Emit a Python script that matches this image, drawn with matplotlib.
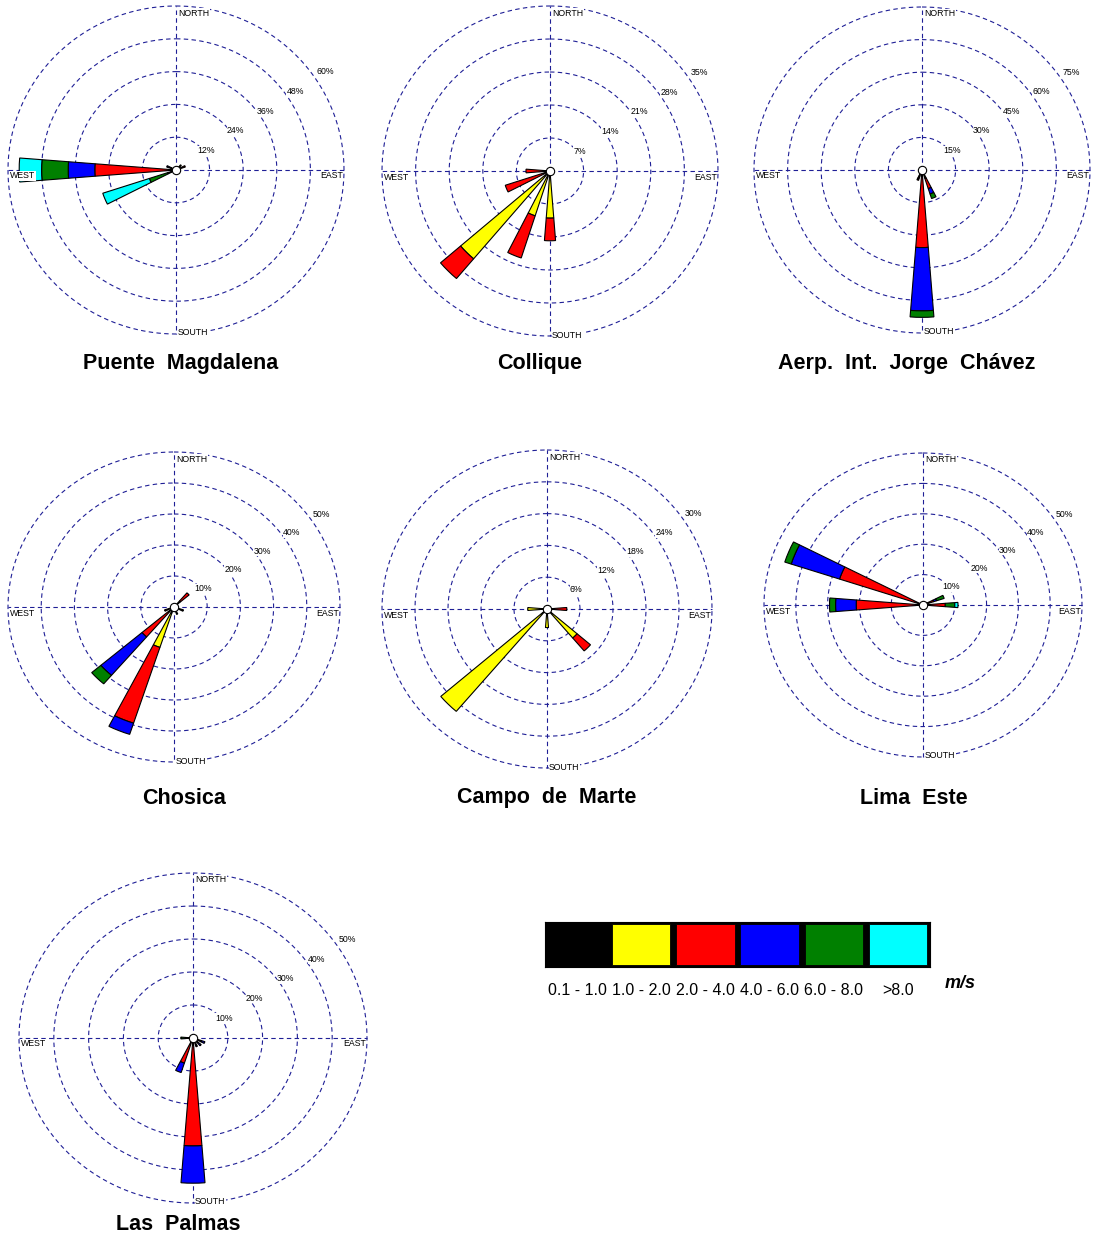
import numpy as np
import matplotlib.pyplot as plt

W, H = 1094, 1240

compass = ['N', 'NNE', 'NE', 'ENE', 'E', 'ESE', 'SE', 'SSE',
           'S', 'SSW', 'SW', 'WSW', 'W', 'WNW', 'NW', 'NNW']
speed_labels = ['0.1 - 1.0', '1.0 - 2.0', '2.0 - 4.0', '4.0 - 6.0', '6.0 - 8.0', '>8.0']
speed_colors = ['#000000', '#ffff00', '#ff0000', '#0000ff', '#008000', '#00ffff']

# frequencies (%) per speed class: 0.1-1, 1-2, 2-4, 4-6, 6-8, >8
pm_dirs = ['NE', 'ENE', 'WNW', 'W', 'WSW']
pm_freq = [[0.5, 2.0, 0, 0, 0, 0],
           [0.5, 1.0, 2.0, 0, 0, 0],
           [0.5, 0.5, 1.0, 1.5, 0, 0],
           [0.5, 1.0, 27.5, 9.5, 9.5, 8.0],
           [1.0, 0, 1.0, 1.0, 7.0, 17.5]]
pm_step = 12

co_dirs = ['W', 'WSW', 'SW', 'SSW', 'S']
co_freq = [[0.3, 0.5, 4.2, 0, 0, 0],
           [0.3, 1.0, 8.5, 0, 0, 0],
           [0.3, 24.2, 5.5, 0, 0, 0],
           [0.3, 9.7, 9.4, 0, 0, 0],
           [0.5, 9.5, 4.8, 0, 0, 0]]
co_step = 7

ae_dirs = ['S', 'SSE', 'SSW']
ae_freq = [[0.5, 1.5, 33.7, 29.1, 3.0, 0],
           [2.0, 2.0, 5.0, 2.6, 2.2, 0],
           [3.0, 1.0, 1.0, 0, 0, 0]]
ae_step = 15

ch_dirs = ['SW', 'SSW', 'NE', 'WSW', 'SSE', 'ESE']
ch_freq = [[1.0, 0.5, 11.2, 16.3, 3.6, 0],
           [2.0, 11.7, 25.7, 3.8, 0, 0],
           [0.5, 2.0, 3.5, 0, 0, 0],
           [1.0, 0, 2.0, 0, 0, 0],
           [2.5, 0, 0, 0, 0, 0],
           [3.0, 0, 0, 0, 0, 0]]
ch_step = 10

cm_dirs = ['SW', 'SE', 'E', 'W', 'S']
cm_freq = [[0.5, 24.9, 0, 0, 0, 0],
           [0.3, 6.9, 3.2, 0, 0, 0],
           [0.3, 0.3, 3.0, 0, 0, 0],
           [0.3, 3.2, 0, 0, 0, 0],
           [0.3, 3.2, 0, 0, 0, 0]]
cm_step = 6

le_dirs = ['WNW', 'W', 'E', 'ENE']
le_freq = [[0.3, 0.7, 26.6, 16.0, 2.1, 0],
           [0.3, 0.7, 20.0, 6.5, 1.9, 0],
           [0.5, 0.5, 6.0, 0, 3.0, 1.0],
           [1.5, 0.5, 1.5, 1.0, 2.5, 0]]
le_step = 10

lp_dirs = ['S', 'SSW', 'W', 'ESE', 'SE', 'SSE']
lp_freq = [[0.5, 1.5, 30.7, 11.3, 0, 0],
           [0.5, 0.5, 7.0, 3.0, 0, 0],
           [0.5, 0, 0.5, 0.5, 2.0, 0],
           [0.3, 0.3, 2.0, 1.0, 0, 0],
           [0.3, 0.3, 1.0, 1.5, 0, 0],
           [0.3, 0.5, 1.5, 0.5, 0, 0]]
lp_step = 10

stations = [
    ('Puente  Magdalena', pm_dirs, pm_freq, pm_step),
    ('Collique', co_dirs, co_freq, co_step),
    ('Aerp.  Int.  Jorge  Chávez', ae_dirs, ae_freq, ae_step),
    ('Chosica', ch_dirs, ch_freq, ch_step),
    ('Campo  de  Marte', cm_dirs, cm_freq, cm_step),
    ('Lima  Este', le_dirs, le_freq, le_step),
    ('Las  Palmas', lp_dirs, lp_freq, lp_step),
]

# (center x, center y, radius x, radius y) in pixels, then title position
boxes = [(176, 170, 168, 164), (550, 171, 168, 165), (922, 170, 168, 163),
         (174, 607, 166, 155), (547, 609, 165, 159), (923, 605, 159, 152),
         (193, 1038, 174, 165)]
title_pos = [(181, 363), (540, 363), (907, 363), (184, 798), (547, 798),
             (914, 798), (178, 1225)]

grid_c = '#1f1f96'
font = 'Liberation Sans'


def draw_rose(ax, dirs, freq, step):
    ax.set_theta_zero_location('N')
    ax.set_theta_direction(-1)
    rmax = step * 5
    ax.set_ylim(0, rmax)
    ax.set_axis_off()
    ax.set_aspect('auto')

    th = np.linspace(0, 2 * np.pi, 400)
    for k in range(1, 6):
        ax.plot(th, np.full_like(th, k * step), ls=(0, (4, 3)), color=grid_c,
                lw=0.8, zorder=1, clip_on=False)
    for a in [0, np.pi / 2, np.pi, 3 * np.pi / 2]:
        ax.plot([a, a], [0, rmax], ls=(0, (4, 3)), color=grid_c, lw=0.8,
                zorder=1, clip_on=False)

    for k in range(1, 6):
        ax.text(np.deg2rad(56), k * step * 1.07, f'{k * step}%', fontsize=6.3,
                family=font, ha='center', va='center', zorder=2,
                bbox=dict(facecolor='white', edgecolor='none', pad=0.2))

    width = np.deg2rad(9)
    for d, vals in zip(dirs, freq):
        theta = np.deg2rad(compass.index(d) * 22.5)
        bottom = 0
        for v, c in zip(vals, speed_colors):
            if v > 0:
                ax.bar(theta, v, width=width, bottom=bottom, color=c,
                       edgecolor='black', linewidth=0.8, zorder=3)
            bottom += v
    ax.plot([0], [0], 'o', ms=6, mfc='white', mec='black', mew=0.8, zorder=5)

    lab = dict(fontsize=6.3, family=font, va='center', zorder=4,
               xycoords='axes fraction', textcoords='offset pixels',
               bbox=dict(facecolor='white', edgecolor='none', pad=0.3))
    ax.annotate('NORTH', xy=(0.5, 1), xytext=(2, -7), ha='left', **lab)
    ax.annotate('SOUTH', xy=(0.5, 0), xytext=(2, 1), ha='left', **lab)
    ax.annotate('WEST', xy=(0, 0.5), xytext=(2, -6), ha='left', **lab)
    ax.annotate('EAST', xy=(1, 0.5), xytext=(-1, -6), ha='right', **lab)


fig = plt.figure(figsize=(W / 100, H / 100), dpi=100)

for (title, dirs, freq, step), (cx, cy, rx, ry), (tx, ty) in zip(stations, boxes, title_pos):
    ax = fig.add_axes([(cx - rx) / W, 1 - (cy + ry) / H, 2 * rx / W, 2 * ry / H],
                      projection='polar')
    draw_rose(ax, dirs, freq, step)
    fig.text(tx / W, 1 - ty / H, title, ha='center', va='center', fontsize=15.5,
             fontweight='bold', family=font)

# speed legend
lx0, lx1, ly0, ly1 = 545, 930, 922, 967
lax = fig.add_axes([lx0 / W, 1 - ly1 / H, (lx1 - lx0) / W, (ly1 - ly0) / H])
lax.set_facecolor('black')
lax.set_xlim(0, 6)
lax.set_ylim(0, 1)
lax.set_xticks([])
lax.set_yticks([])
for s in lax.spines.values():
    s.set_color('black')
lax.bar(np.arange(6) + 0.5, 0.92, width=0.91, bottom=0.04, color=speed_colors,
        edgecolor='black', linewidth=0.6)
for i, t in enumerate(speed_labels):
    lax.text(i + 0.5, -0.52, t, ha='center', va='center', fontsize=11.5,
             family=font, clip_on=False)
lax.text(6.47, -0.36, 'm/s', ha='center', va='center', fontsize=13,
         fontweight='bold', style='italic', family=font, clip_on=False)

fig.savefig('out.png', dpi=100)
